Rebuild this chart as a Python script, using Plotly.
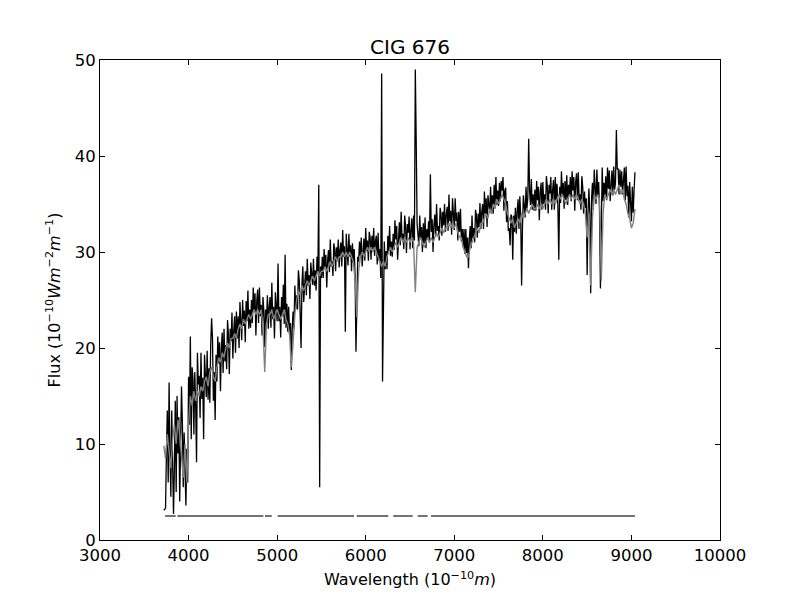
import numpy as np
import plotly.graph_objects as go

# observed spectrum: sampled every 10 A from 3720 to 9040 A
obs_start, obs_step = 3720, 10
# fitted spectrum: sampled every 20 A over the same range
fit_start, fit_step = 3720, 20

# observed flux (black), one row = 20 samples = 200 A
flux_obs = [
    3.1, 3.2, 3.3, 9.0, 13.5, 6.0, 16.4, 9.0, 4.5, 13.5, 8.5, 2.7, 7.5, 14.5, 5.0, 15.0, 9.0, 12.8, 4.0, 13.0,
    16.0, 12.3, 5.5, 11.2, 5.0, 3.6, 9.5, 6.0, 17.0, 12.0, 21.2, 10.5, 18.0, 16.8, 11.0, 17.5, 14.0, 8.1, 19.5, 16.2,
    17.1, 12.7, 19.5, 14.7, 16.9, 10.5, 19.3, 17.2, 14.9, 19.7, 14.6, 17.9, 14.3, 20.3, 23.1, 21.0, 14.5, 17.5, 12.5, 19.3,
    16.5, 21.2, 18.4, 20.6, 15.5, 19.9, 21.6, 17.4, 22.0, 18.6, 20.3, 17.8, 22.9, 21.4, 17.3, 22.0, 20.7, 23.7, 18.9, 21.8,
    23.3, 19.5, 23.8, 21.0, 23.3, 20.0, 24.8, 22.7, 20.8, 25.0, 22.3, 23.9, 20.6, 24.9, 22.8, 26.0, 22.0, 24.0, 22.1, 25.0,
    22.6, 26.3, 23.8, 25.7, 21.3, 24.9, 26.1, 22.6, 26.3, 23.3, 24.5, 21.3, 25.3, 23.8, 20.1, 24.0, 22.6, 25.5, 22.0, 24.3,
    25.3, 22.1, 26.8, 23.0, 24.3, 21.0, 25.8, 24.3, 22.8, 28.8, 22.8, 24.3, 21.1, 25.3, 23.3, 26.6, 22.5, 29.7, 22.1, 24.6,
    21.7, 24.3, 21.4, 22.6, 17.7, 22.0, 23.8, 22.0, 26.5, 24.1, 25.5, 24.0, 28.1, 27.0, 23.8, 20.0, 26.6, 28.5, 24.8, 26.9,
    28.0, 25.5, 29.3, 26.5, 27.6, 25.1, 28.9, 27.7, 26.6, 29.3, 26.5, 28.1, 26.0, 29.5, 27.9, 37.0, 5.5, 28.5, 27.3, 29.5,
    27.3, 30.3, 28.4, 29.7, 26.3, 29.1, 30.2, 27.9, 31.3, 28.5, 29.0, 27.5, 30.9, 30.3, 28.0, 30.5, 29.1, 31.3, 28.4, 30.2,
    31.0, 28.5, 32.3, 29.5, 30.6, 21.7, 31.9, 30.3, 28.6, 31.9, 29.5, 30.7, 28.0, 30.9, 28.9, 30.3, 27.5, 19.6, 26.0, 29.5,
    29.0, 31.1, 29.6, 31.5, 28.5, 30.9, 31.4, 29.1, 32.5, 30.1, 31.2, 29.1, 32.1, 31.5, 29.2, 31.7, 30.3, 32.5, 29.6, 31.1,
    31.7, 28.7, 32.0, 29.1, 30.3, 27.3, 48.6, 16.5, 28.3, 31.1, 28.2, 30.1, 28.2, 31.7, 30.1, 32.7, 29.6, 31.1, 29.5, 31.9,
    30.2, 33.3, 31.3, 32.7, 29.2, 32.1, 33.1, 30.7, 34.2, 31.3, 31.9, 30.3, 33.8, 32.7, 29.9, 32.9, 32.0, 33.7, 30.3, 32.3,
    33.5, 30.4, 33.8, 31.2, 49.0, 41.7, 32.9, 31.8, 30.6, 33.8, 31.5, 32.6, 30.0, 33.0, 30.9, 33.6, 30.4, 32.4, 31.3, 33.2,
    31.0, 38.1, 32.1, 33.4, 30.0, 32.8, 33.9, 31.6, 35.0, 32.2, 32.7, 31.2, 34.6, 34.0, 31.7, 34.2, 32.8, 35.0, 32.1, 33.9,
    34.7, 32.2, 36.0, 33.2, 34.3, 31.8, 35.6, 34.0, 32.3, 35.6, 33.2, 34.1, 31.2, 34.2, 32.1, 34.5, 31.1, 32.4, 30.5, 32.4,
    29.8, 32.4, 29.9, 31.5, 28.3, 31.4, 32.7, 30.4, 33.8, 31.4, 32.5, 31.0, 34.4, 33.8, 31.5, 34.0, 32.6, 35.1, 32.4, 34.2,
    35.0, 32.4, 36.3, 34.0, 35.6, 32.6, 35.9, 35.0, 34.1, 36.8, 34.0, 35.9, 34.0, 37.0, 34.9, 37.8, 34.9, 36.4, 34.8, 37.2,
    35.3, 37.4, 36.4, 37.8, 34.3, 36.4, 36.7, 33.1, 35.3, 32.2, 32.5, 30.7, 33.9, 33.6, 29.2, 33.8, 32.1, 34.6, 31.9, 34.2,
    35.5, 32.4, 35.8, 33.7, 26.5, 32.6, 35.9, 34.8, 33.6, 36.8, 34.5, 35.6, 41.8, 36.4, 34.9, 37.6, 34.4, 36.0, 34.3, 36.5,
    34.3, 37.4, 35.4, 36.8, 33.3, 36.2, 37.2, 34.4, 37.3, 35.0, 36.0, 34.4, 37.9, 36.8, 34.0, 37.0, 36.1, 37.8, 34.4, 36.4,
    37.5, 34.4, 37.8, 35.4, 37.1, 34.6, 29.2, 36.8, 35.1, 38.4, 36.0, 37.2, 34.5, 37.4, 35.4, 38.0, 34.9, 37.0, 35.8, 37.8,
    35.3, 38.4, 36.4, 37.8, 34.3, 37.2, 38.2, 35.4, 38.3, 35.4, 36.0, 34.4, 37.9, 36.8, 34.0, 36.3, 34.6, 35.6, 27.6, 34.2,
    36.6, 34.0, 25.7, 35.6, 37.2, 34.4, 38.6, 36.8, 35.0, 38.6, 35.9, 37.3, 34.3, 26.2, 35.9, 38.8, 35.3, 37.2, 35.7, 37.9,
    35.4, 38.8, 36.6, 38.5, 35.3, 37.9, 38.5, 35.9, 38.9, 36.5, 37.2, 42.7, 38.6, 38.7, 36.0, 38.6, 36.8, 38.4, 36.0, 37.4,
    38.8, 35.4, 38.9, 35.8, 36.9, 33.6, 37.3, 35.2, 33.2, 36.8, 34.1, 36.5, 38.3,
]

# synthetic fit (gray), one row = 10 samples = 200 A
flux_fit = [
    9.8, 8.5, 11.0, 9.5, 7.5, 10.5, 12.0, 10.0, 12.5, 11.0,
    9.0, 6.5, 10.0, 6.0, 12.0, 15.0, 14.0, 15.5, 14.5, 15.5,
    15.0, 16.0, 15.5, 16.5, 17.0, 16.0, 17.5, 18.0, 17.0, 16.5,
    18.0, 19.0, 18.5, 19.5, 19.0, 20.0, 20.5, 20.0, 21.0, 21.0,
    21.5, 21.0, 22.0, 22.5, 22.0, 23.0, 22.5, 23.0, 23.5, 23.0,
    23.5, 24.0, 23.5, 24.0, 23.5, 24.0, 22.0, 17.5, 22.5, 23.5,
    23.5, 24.0, 23.0, 23.5, 24.0, 23.5, 23.0, 23.5, 24.0, 23.0,
    22.5, 21.5, 18.0, 20.5, 23.5, 25.0, 26.0, 25.5, 26.5, 26.0,
    26.5, 27.0, 26.5, 27.0, 27.5, 27.0, 27.5, 28.0, 27.5, 28.0,
    28.0, 28.5, 28.0, 28.5, 29.0, 28.5, 29.0, 29.5, 29.0, 29.5,
    29.5, 30.0, 29.5, 30.0, 29.5, 30.0, 29.5, 29.0, 27.0, 23.2,
    28.0, 29.5, 30.0, 29.5, 30.0, 30.5, 30.0, 30.5, 30.0, 30.5,
    30.0, 29.5, 29.0, 28.5, 29.0, 28.5, 29.5, 30.0, 30.5, 30.0,
    30.5, 31.0, 30.5, 31.0, 31.5, 31.0, 31.5, 31.0, 31.5, 31.0,
    31.5, 31.0, 25.8, 30.5, 31.0, 31.5, 31.0, 30.5, 31.0, 31.5,
    31.0, 31.5, 31.0, 31.5, 32.0, 31.5, 32.0, 32.5, 32.0, 32.5,
    32.5, 33.0, 32.5, 33.0, 32.5, 33.0, 32.0, 31.5, 31.5, 30.5,
    30.0, 29.5, 29.5, 30.5, 31.0, 31.5, 32.0, 32.5, 32.0, 33.0,
    33.0, 33.5, 34.0, 33.5, 34.5, 34.0, 35.0, 34.5, 35.5, 35.0,
    35.5, 36.0, 35.5, 35.0, 34.0, 33.5, 33.0, 33.5, 32.5, 33.0,
    33.5, 33.0, 34.0, 33.5, 34.0, 34.5, 34.0, 34.5, 35.0, 34.5,
    34.5, 35.0, 34.5, 35.0, 34.5, 35.0, 35.5, 35.0, 35.5, 35.0,
    35.5, 35.0, 35.5, 36.0, 35.5, 36.0, 35.5, 35.0, 35.5, 36.0,
    35.5, 36.0, 35.5, 36.0, 35.5, 35.0, 35.5, 35.0, 34.0, 31.5,
    34.0, 26.5, 33.5, 36.0, 35.5, 36.0, 35.5, 27.0, 34.0, 36.0,
    35.5, 36.0, 36.5, 36.0, 36.5, 36.0, 36.5, 37.0, 36.0, 36.5,
    35.5, 35.0, 34.0, 33.5, 32.5, 33.0, 34.5,
]

# mask: good-pixel ranges drawn at a constant level
mask_start = [3734, 3873, 4863, 5006, 5898, 6311, 6587, 6737]
mask_end = [3855, 4844, 4939, 5868, 6255, 6530, 6699, 9040]
mask_level = 2.5

wave_obs = obs_start + obs_step * np.arange(len(flux_obs))
wave_fit = fit_start + fit_step * np.arange(len(flux_fit))

mask_x, mask_y = [], []
for a, b in zip(mask_start, mask_end):
    mask_x += [a, b, None]
    mask_y += [mask_level, mask_level, None]

fig = go.Figure()
fig.add_trace(go.Scatter(x=wave_obs, y=flux_obs, mode="lines",
                         line=dict(color="black", width=1.3)))
fig.add_trace(go.Scatter(x=wave_fit, y=flux_fit, mode="lines",
                         line=dict(color="#808080", width=1.4)))
fig.add_trace(go.Scatter(x=mask_x, y=mask_y, mode="lines",
                         line=dict(color="#68767e", width=2)))

axis = dict(showgrid=False, zeroline=False, showline=True, mirror="ticks",
            linecolor="black", linewidth=1, ticks="inside", ticklen=5,
            tickcolor="black", tickformat="d",
            tickfont=dict(size=16.5, color="black"))

# the page body adds an 8px offset, so margins are shifted to compensate
fig.update_layout(
    width=800, height=600,
    margin=dict(l=92, r=88, t=52, b=68),
    paper_bgcolor="white", plot_bgcolor="white",
    font=dict(family="DejaVu Sans", color="black"),
    showlegend=False,
    title=dict(text="CIG 676", x=0.5025, xanchor="center", y=0.935,
               yanchor="middle", font=dict(size=20)),
    xaxis=dict(axis, range=[3000, 10000], dtick=1000,
               title=dict(text="Wavelength (10<sup>−10</sup><i>m</i>)",
                          font=dict(size=16), standoff=10)),
    yaxis=dict(axis, range=[0, 50], dtick=10,
               title=dict(text="Flux (10<sup>−10</sup><i>Wm</i><sup>−2</sup><i>m</i><sup>−1</sup>)",
                          font=dict(size=16), standoff=10)),
)

fig.write_html("out.html")
